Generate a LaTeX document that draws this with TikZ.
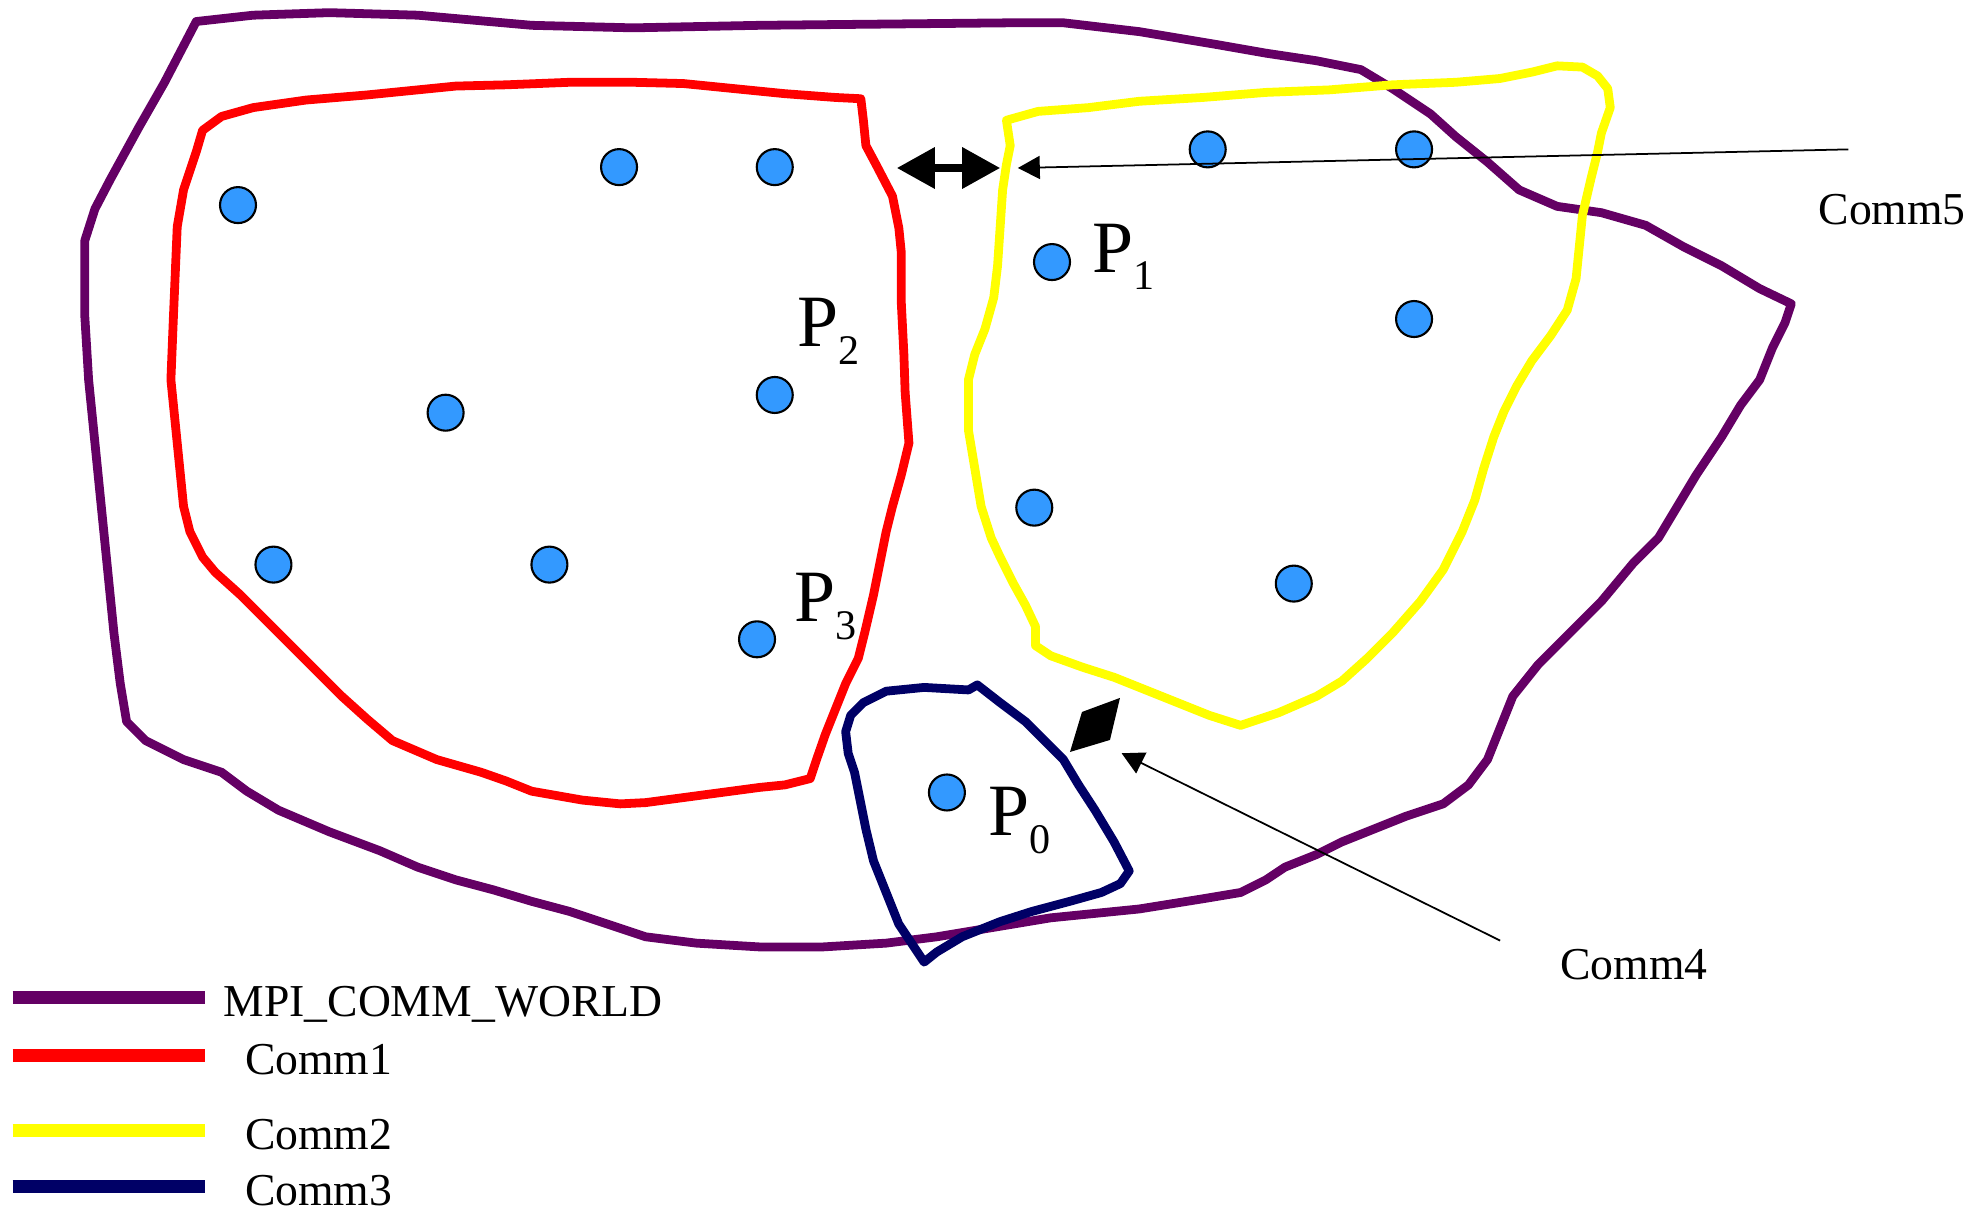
\documentclass[tikz,border=0pt]{standalone}
\usepackage{fontspec}
\setmainfont{Liberation Serif}
\usetikzlibrary{arrows.meta}

\definecolor{worldc}{RGB}{100,0,100}
\definecolor{commone}{RGB}{255,0,0}
\definecolor{commtwo}{RGB}{255,255,0}
\definecolor{commthree}{RGB}{0,0,102}
\definecolor{procc}{RGB}{51,153,255}

\newcommand\procname[2]{#1\raisebox{-5pt}{\fontsize{12}{12}\selectfont #2}}

\tikzset{
  outline/.style={line width=2.5pt, line join=round, line cap=round},
  proc/.style={circle, draw=black, line width=0.6pt, fill=procc, minimum size=0.36cm, inner sep=0pt},
  plabel/.style={anchor=base west, inner sep=0pt, font=\fontsize{21}{24}\selectfont},
  tlabel/.style={anchor=base west, inner sep=0pt, font=\fontsize{13}{15}\selectfont},
  legendline/.style={line width=3.7pt},
  pointer/.style={line width=0.5pt, -{Triangle[length=2.2mm, width=2.3mm]}},
  interarrow/.style={line width=2pt, {Triangle[length=3.8mm 0 0, width=4mm 0 0]}-{Triangle[length=3.8mm 0 0, width=4mm 0 0]}},
}

\begin{document}
\begin{tikzpicture}[x=0.012659cm, y=-0.012659cm]
\useasboundingbox (0,0) rectangle (1568,956.6);

% MPI_COMM_WORLD
\draw[outline, worldc] (155,17) -- (200,12) -- (260,10) -- (330,12) -- (420,20) -- (500,22) -- (600,20) -- (700,19) -- (800,18) -- (840,18) -- (900,25) -- (960,35) -- (1000,42) -- (1040,48) -- (1075,55) -- (1100,70) -- (1130,90) -- (1150,108) -- (1175,128) -- (1200,150) -- (1230,163) -- (1265,168) -- (1300,178) -- (1330,195) -- (1360,210) -- (1390,228) -- (1415,240) -- (1410,255) -- (1400,275) -- (1390,300) -- (1375,320) -- (1360,345) -- (1340,375) -- (1325,400) -- (1310,425) -- (1290,445) -- (1265,475) -- (1240,500) -- (1215,525) -- (1195,550) -- (1185,575) -- (1175,600) -- (1160,620) -- (1140,635) -- (1110,645) -- (1085,655) -- (1060,665) -- (1040,675) -- (1015,685) -- (1000,695) -- (980,705) -- (950,710) -- (900,718) -- (860,722) -- (830,725) -- (800,730) -- (770,735) -- (740,740) -- (700,745) -- (650,748) -- (600,748) -- (550,745) -- (510,740) -- (480,730) -- (450,720) -- (420,712) -- (390,703) -- (360,695) -- (330,685) -- (300,672) -- (260,657) -- (220,640) -- (195,625) -- (175,610) -- (145,600) -- (115,585) -- (100,570) -- (95,540) -- (90,500) -- (85,450) -- (80,400) -- (75,350) -- (70,300) -- (67,250) -- (67,190) -- (75,165) -- (87,142) -- (110,100) -- (130,65) -- cycle;

% Comm1
\draw[outline, commone] (160,103) -- (175,92) -- (200,85) -- (242,79) -- (290,75) -- (340,70) -- (360,68) -- (400,67) -- (450,65) -- (500,65) -- (540,66) -- (580,70) -- (620,74) -- (660,77) -- (680,78) -- (682,95) -- (684,115) -- (692,130) -- (705,155) -- (710,180) -- (712,200) -- (712,240) -- (714,280) -- (715,310) -- (718,350) -- (712,375) -- (705,400) -- (700,420) -- (695,445) -- (690,470) -- (683,500) -- (678,520) -- (668,540) -- (660,560) -- (652,580) -- (645,600) -- (640,615) -- (620,620) -- (600,622) -- (570,626) -- (540,630) -- (510,634) -- (490,635) -- (460,632) -- (420,625) -- (400,617) -- (380,610) -- (345,600) -- (310,585) -- (290,568) -- (270,550) -- (250,530) -- (230,510) -- (210,490) -- (190,470) -- (170,452) -- (160,440) -- (150,420) -- (145,400) -- (140,350) -- (135,300) -- (137,250) -- (140,179) -- (145,150) -- (155,120) -- cycle;

% Comm2
\draw[outline, commtwo] (795,95) -- (820,88) -- (860,85) -- (900,80) -- (950,77) -- (1000,73) -- (1050,71) -- (1100,67) -- (1150,65) -- (1185,62) -- (1210,57) -- (1230,52) -- (1250,53) -- (1262,60) -- (1270,70) -- (1272,85) -- (1265,105) -- (1262,120) -- (1257,140) -- (1250,170) -- (1247,200) -- (1245,220) -- (1238,245) -- (1225,265) -- (1210,285) -- (1198,305) -- (1188,325) -- (1180,345) -- (1172,370) -- (1165,395) -- (1155,420) -- (1140,450) -- (1122,475) -- (1100,500) -- (1080,520) -- (1060,538) -- (1040,550) -- (1010,563) -- (980,573) -- (955,565) -- (930,555) -- (905,545) -- (880,535) -- (855,527) -- (830,518) -- (818,510) -- (818,495) -- (810,478) -- (800,460) -- (790,440) -- (783,425) -- (775,400) -- (770,370) -- (765,340) -- (765,300) -- (770,280) -- (778,260) -- (785,235) -- (788,210) -- (790,180) -- (792,150) -- (795,130) -- (798,115) -- cycle;

% Comm3
\draw[outline, commthree] (668,578) -- (672,565) -- (682,555) -- (700,546) -- (730,543) -- (765,545) -- (772,541) -- (790,555) -- (810,570) -- (825,585) -- (840,600) -- (852,620) -- (865,640) -- (880,665) -- (892,688) -- (885,698) -- (870,705) -- (845,712) -- (815,720) -- (790,728) -- (760,740) -- (740,752) -- (730,760) -- (720,745) -- (710,730) -- (700,705) -- (690,680) -- (684,655) -- (680,635) -- (675,610) -- (670,595) -- cycle;

% processes
\node[proc] (q1)  at (188,162) {};
\node[proc] (q2)  at (489,132) {};
\node[proc] (q3)  at (612,132) {};
\node[proc] (q4)  at (352,326) {};
\node[proc] (p2)  at (612,312) {};
\node[proc] (q5)  at (216,446) {};
\node[proc] (q6)  at (434,446) {};
\node[proc] (p3)  at (598,505) {};
\node[proc] (p1)  at (831,207) {};
\node[proc] (q7)  at (954,118) {};
\node[proc] (q8)  at (1117,118) {};
\node[proc] (q9)  at (1117,252) {};
\node[proc] (q10) at (817,401) {};
\node[proc] (q11) at (1022,461) {};
\node[proc] (p0)  at (748,626) {};

% process names
\node[plabel] (lp2) at (629.5,274) {\procname{P}{2}};
\node[plabel] (lp3) at (627,491) {\procname{P}{3}};
\node[plabel] (lp1) at (862.6,215) {\procname{P}{1}};
\node[plabel] (lp0) at (780,660) {\procname{P}{0}};

% inter-communicator between Comm1 and Comm2
\coordinate (ia) at (708.5,132.7);
\coordinate (ib) at (790,132.7);
\draw[interarrow] (ia) -- (ib);

% inter-communicator between Comm3 and Comm2
\coordinate (ka) at (884.7,551.3);
\coordinate (kb) at (876.8,584.5);
\coordinate (kc) at (845.2,594);
\coordinate (kd) at (854.7,562.4);
\fill[black] (ka) -- (kb) -- (kc) -- (kd) -- cycle;

% labels for the inter-communicators
\node[tlabel] (c5) at (1436,177.7) {Comm5};
\coordinate (c5from) at (1460,118);
\coordinate (c5to) at (804,132.7);
\draw[pointer] (c5from) -- (c5to);

\node[tlabel] (c4) at (1232,774) {Comm4};
\coordinate (c4from) at (1185,743);
\coordinate (c4to) at (886,595);
\draw[pointer] (c4from) -- (c4to);

% legend
\coordinate (l1a) at (10,788);  \coordinate (l1b) at (162,788);
\coordinate (l2a) at (10,834);  \coordinate (l2b) at (162,834);
\coordinate (l3a) at (10,893);  \coordinate (l3b) at (162,893);
\coordinate (l4a) at (10,937);  \coordinate (l4b) at (162,937);
\draw[legendline, worldc] (l1a) -- (l1b);
\draw[legendline, commone] (l2a) -- (l2b);
\draw[legendline, commtwo] (l3a) -- (l3b);
\draw[legendline, commthree] (l4a) -- (l4b);
\node[tlabel] (t1) at (176,803) {MPI\_COMM\_WORLD};
\node[tlabel] (t2) at (193,849) {Comm1};
\node[tlabel] (t3) at (193,908) {Comm2};
\node[tlabel] (t4) at (193,952) {Comm3};
\end{tikzpicture}
\end{document}
